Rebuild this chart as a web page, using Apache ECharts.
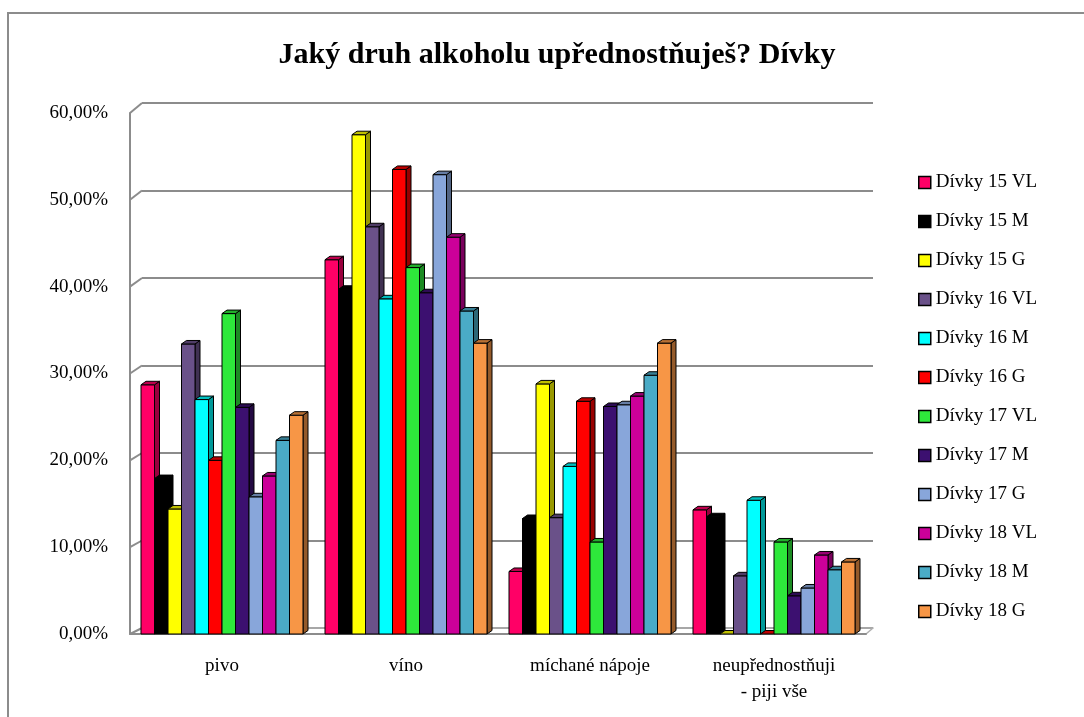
<!DOCTYPE html>
<html>
<head>
<meta charset="utf-8">
<script src="https://cdn.jsdelivr.net/npm/echarts@6/dist/echarts.min.js"></script>
<style>
  html, body { margin: 0; padding: 0; background: #fff; }
  #chart { width: 1084px; height: 717px; }
</style>
</head>
<body>
<div id="chart"></div>
<script>
// categories and series
const categories = ['pivo', 'víno', 'míchané nápoje', 'neupřednostňuji\n- piji vše']
const seriesNames = ['Dívky 15 VL', 'Dívky 15 M', 'Dívky 15 G', 'Dívky 16 VL', 'Dívky 16 M', 'Dívky 16 G',
  'Dívky 17 VL', 'Dívky 17 M', 'Dívky 17 G', 'Dívky 18 VL', 'Dívky 18 M', 'Dívky 18 G']
const colors = ['#ff0066', '#000000', '#ffff00', '#6a5189', '#00ffff', '#ff0000',
  '#2ee83b', '#3c1070', '#88a6da', '#cc0099', '#4aabc6', '#f79646']

// values in % per category, one entry per series
const pivo = [28.7, 17.9, 14.4, 33.4, 27.0, 20.0, 36.9, 26.1, 15.8, 18.2, 22.3, 25.2]
const vino = [43.1, 39.7, 57.5, 46.9, 38.6, 53.5, 42.2, 39.3, 52.9, 45.7, 37.2, 33.5]
const michane = [7.2, 13.3, 28.8, 13.4, 19.3, 26.8, 10.6, 26.2, 26.4, 27.4, 29.8, 33.5]
const neupr = [14.3, 13.5, 0, 6.7, 15.4, 0, 10.6, 4.4, 5.3, 9.1, 7.4, 8.3]
const yTicks = [0, 10, 20, 30, 40, 50, 60]

const groups = [pivo, vino, michane, neupr]
const font = '"Liberation Serif", "Times New Roman", serif'

// 3D look
const barW = 13.5
const dx = 5
const dy = 3.5

function shade(hex, k) {
  const n = parseInt(hex.slice(1), 16)
  const r = Math.round(((n >> 16) & 255) * k)
  const g = Math.round(((n >> 8) & 255) * k)
  const b = Math.round((n & 255) * k)
  return 'rgb(' + r + ',' + g + ',' + b + ')'
}

function renderBar(params, api) {
  const si = params.seriesIndex
  const base = api.coord([api.value(0), 0])
  const top = api.coord([api.value(0), api.value(1)])
  const c = colors[si]
  const x0 = base[0] - barW * 6 + si * barW
  const x1 = x0 + barW
  const yb = base[1]
  const yt = top[1]
  const children = []
  if (yb - yt > 0.5) {
    children.push({
      type: 'polygon',
      shape: { points: [[x1, yt], [x1 + dx, yt - dy], [x1 + dx, yb - dy], [x1, yb]] },
      style: { fill: shade(c, 0.6), stroke: '#000', lineWidth: 1 }
    })
    children.push({
      type: 'rect',
      shape: { x: x0, y: yt, width: barW, height: yb - yt },
      style: { fill: c, stroke: '#000', lineWidth: 1 }
    })
  }
  children.push({
    type: 'polygon',
    shape: { points: [[x0, yt], [x1, yt], [x1 + dx, yt - dy], [x0 + dx, yt - dy]] },
    style: { fill: shade(c, 0.75), stroke: '#000', lineWidth: 1 }
  })
  return { type: 'group', children: children }
}

const series = seriesNames.map((name, si) => ({
  type: 'custom',
  name: name,
  xAxisIndex: 0,
  yAxisIndex: 0,
  itemStyle: { color: colors[si] },
  renderItem: renderBar,
  encode: { x: 0, y: 1 },
  data: groups.map((g, ci) => [ci, g[si]])
}))

const chart = echarts.init(document.getElementById('chart'))
const option = {
  animation: false,
  backgroundColor: '#fff',
  title: {
    text: 'Jaký druh alkoholu upřednostňuješ? Dívky',
    left: 552,
    textAlign: 'center',
    top: 35,
    textStyle: { fontFamily: font, fontSize: 30, fontWeight: 'bold', color: '#000' }
  },
  legend: {
    orient: 'vertical',
    left: 918,
    top: 173,
    padding: 0,
    icon: 'rect',
    itemWidth: 12,
    itemHeight: 12,
    itemGap: 20,
    itemStyle: { borderColor: '#000', borderWidth: 1.5 },
    textStyle: { fontFamily: font, fontSize: 19, color: '#000' },
    data: seriesNames
  },
  grid: [
    // front plane (bars and labels)
    { left: 130, right: 218, top: 113, bottom: 83 },
    // back wall (gridlines)
    { left: 142, right: 211, top: 103, bottom: 89 }
  ],
  xAxis: [
    {
      type: 'category',
      gridIndex: 0,
      data: categories,
      axisLine: { lineStyle: { color: '#8c8c8c', width: 2 } },
      axisTick: { show: false },
      axisLabel: { fontFamily: font, fontSize: 19, color: '#000', margin: 19, lineHeight: 26 }
    },
    {
      type: 'category',
      gridIndex: 1,
      data: categories,
      axisLine: { lineStyle: { color: '#b0b0b0', width: 1.5 } },
      axisTick: { show: false },
      axisLabel: { show: false }
    }
  ],
  yAxis: [
    {
      type: 'value',
      gridIndex: 0,
      min: 0,
      max: 60,
      interval: 10,
      axisLine: { show: true, lineStyle: { color: '#8c8c8c', width: 2 } },
      axisTick: { show: false },
      splitLine: { show: false },
      axisLabel: {
        fontFamily: font,
        fontSize: 19,
        color: '#000',
        margin: 22,
        formatter: v => v.toFixed(2).replace('.', ',') + '%'
      }
    },
    {
      type: 'value',
      gridIndex: 1,
      min: 0,
      max: 60,
      interval: 10,
      axisLine: { show: false },
      axisTick: { show: false },
      axisLabel: { show: false },
      splitLine: { lineStyle: { color: '#8c8c8c', width: 2 } }
    }
  ],
  series: series
}
chart.setOption(option)

// outer frame + the diagonal joins between front axis and back wall
const extras = [{
  type: 'rect',
  shape: { x: 8, y: 13, width: 1120, height: 740 },
  style: { fill: 'none', stroke: '#8c8c8c', lineWidth: 2 },
  silent: true
}]
yTicks.forEach(v => {
  const yf = chart.convertToPixel({ yAxisIndex: 0 }, v)
  const yb = chart.convertToPixel({ yAxisIndex: 1 }, v)
  extras.push({
    type: 'line',
    shape: { x1: 130, y1: yf, x2: 142, y2: yb },
    style: { stroke: '#8c8c8c', lineWidth: 2 },
    silent: true
  })
})
const fr = chart.convertToPixel({ xAxisIndex: 0, yAxisIndex: 0 }, [3.5, 0])
const bk = chart.convertToPixel({ xAxisIndex: 1, yAxisIndex: 1 }, [3.5, 0])
extras.push({
  type: 'line',
  shape: { x1: 866, y1: fr[1], x2: 873, y2: bk[1] },
  style: { stroke: '#b0b0b0', lineWidth: 1.5 },
  silent: true
})
chart.setOption({ graphic: extras })
</script>
</body>
</html>
